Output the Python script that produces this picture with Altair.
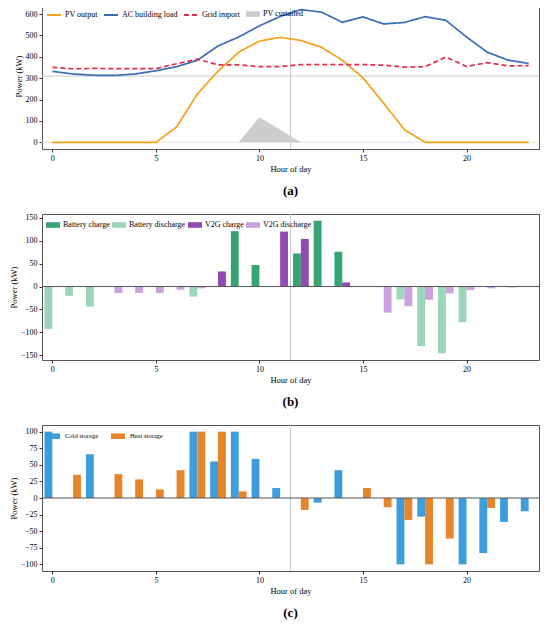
import altair as alt
import pandas as pd

# ---------------- data ----------------
hours = list(range(24))

# panel (a)
pv_output = [0, 0, 0, 0, 0, 0, 72, 226, 333, 422, 474, 491, 477, 445, 384, 302, 183, 60, 0, 0, 0, 0, 0, 0]
ac_building_load = [332, 320, 314, 313, 320, 335, 354, 384, 451, 493, 545, 589, 621, 609, 562, 587, 554, 561, 588, 571, 493, 422, 385, 369]
grid_import = [351, 344, 346, 345, 345, 345, 368, 389, 363, 363, 354, 354, 364, 364, 364, 364, 361, 352, 354, 399, 355, 373, 358, 359]
pv_curtailed = [0, 0, 0, 0, 0, 0, 0, 0, 0, 0, 118, 59, 0, 0, 0, 0, 0, 0, 0, 0, 0, 0, 0, 0]
ref_power = 310
ref_hour = 11.5

# panel (b)
battery_charge = [0, 0, 0, 0, 0, 0, 0, 0, 0, 121, 47, 0, 72, 144, 76, 0, 0, 0, 0, 0, 0, 0, 0, 0]
battery_discharge = [-93, -20, -44, 0, 0, 0, 0, -22, 0, 0, 0, 0, 0, 0, 0, 0, 0, -28, -130, -146, -78, 0, 0, 0]
v2g_charge = [0, 0, 0, 0, 0, 0, 0, 0, 33, 0, 0, 120, 104, 0, 9, 0, 0, 0, 0, 0, 0, 0, 0, 0]
v2g_discharge = [0, 0, 0, -14, -14, -14, -7, -4, 0, 0, 0, 0, 0, 0, 0, 0, -57, -43, -29, -15, -8, -4, -2, 0]

# panel (c)
cold_storage = [100, 0, 66, 0, 0, 0, 0, 100, 55, 100, 59, 15, 0, -7, 42, 0, 0, -100, -28, 0, -100, -83, -36, -20]
heat_storage = [0, 35, 0, 36, 28, 13, 42, 100, 100, 10, 0, 0, -18, 0, 0, 15, -14, -33, -100, -61, 0, -15, 0, 0]

line_series = ["PV output", "AC building load", "Grid import"]
line_colors = ["#f5a11c", "#3a6db5", "#e0304e"]
line_dashes = [[1, 0], [1, 0], [5, 3]]
curt_label = "PV curtailed"
curt_color = "#cccccc"
b_series = ["Battery charge", "Battery discharge", "V2G charge", "V2G discharge"]
b_colors = ["#2ca06c", "#93d4b6", "#8b3fb0", "#c89ddd"]
c_series = ["Cold storage", "Heat storage"]
c_colors = ["#3498db", "#e67e22"]

FONT = "Liberation Serif"
W, H = 497, 146
RECT = "M-1,-0.4L1,-0.4L1,0.4L-1,0.4Z"

# ---------------- tables ----------------
df_lines = pd.DataFrame({
    "hour": hours * 3,
    "power": pv_output + ac_building_load + grid_import,
    "series": [s for s in line_series for _ in hours],
})
df_curt = pd.DataFrame({"hour": hours, "power": pv_curtailed, "series": [curt_label] * 24})


def long_bars(series_lists, names, groups):
    rows = []
    for vals, name, grp in zip(series_lists, names, groups):
        for h, v in zip(hours, vals):
            if v != 0:
                rows.append({"hour": h, "power": v, "series": name, "side": grp})
    return pd.DataFrame(rows)


df_b = long_bars([battery_charge, battery_discharge, v2g_charge, v2g_discharge], b_series,
                 ["left", "left", "right", "right"])
df_c = long_bars([cold_storage, heat_storage], c_series, ["left", "right"])

df_vref = pd.DataFrame({"hour": [ref_hour]})
df_zero = pd.DataFrame({"power": [0]})
df_href = pd.DataFrame({"power": [ref_power]})

# ---------------- shared encodings ----------------
xscale = alt.Scale(domain=[-0.5, 23.5], nice=False, zero=False)
xaxis = alt.Axis(title="Hour of day", values=[0, 5, 10, 15, 20])


def yaxis(vals):
    return alt.Axis(title="Power (kW)", values=vals)


def caption(t):
    return alt.TitleParams(t, orient="bottom", anchor="middle", font=FONT, fontSize=13,
                           fontWeight="bold", offset=12, color="black")


# ---------------- panel (a) ----------------
ya = alt.Scale(domain=[-31, 652], nice=False, zero=False)
ya_axis = yaxis([0, 100, 200, 300, 400, 500, 600])
X = alt.X("hour:Q", scale=xscale, axis=xaxis)
Ya = alt.Y("power:Q", scale=ya, axis=ya_axis)

vline_a = alt.Chart(df_vref).mark_rule(color="#cccccc", strokeWidth=1).encode(x=X)
hline_a = alt.Chart(df_href).mark_rule(color="#cccccc", strokeWidth=1).encode(y=Ya)
zero_a = alt.Chart(df_zero).mark_rule(color="#e4e4e4", strokeWidth=1).encode(y=Ya)

area_a = alt.Chart(df_curt).mark_area(opacity=1).encode(
    x=X, y=Ya,
    fill=alt.Fill("series:N", scale=alt.Scale(domain=[curt_label], range=[curt_color]),
                  legend=alt.Legend(title=None, orient="none", legendX=204, legendY=4,
                                    padding=0, symbolType=RECT, symbolSize=196,
                                    symbolStrokeWidth=0, labelFont=FONT, labelFontSize=8,
                                    labelOffset=3)),
)

leg_a = alt.Legend(
    title=None, orient="top-left", direction="horizontal", offset=4, padding=0,
    symbolType="stroke", symbolSize=196, symbolStrokeWidth=2,
    labelFont=FONT, labelFontSize=8, labelOffset=3, columnPadding=2,
)
lines_a = alt.Chart(df_lines).mark_line(strokeWidth=1.7).encode(
    x=X, y=Ya,
    stroke=alt.Stroke("series:N", scale=alt.Scale(domain=line_series, range=line_colors),
                      sort=line_series, legend=leg_a),
    strokeDash=alt.StrokeDash("series:N", scale=alt.Scale(domain=line_series, range=line_dashes),
                              sort=line_series, legend=leg_a),
)

panel_a = alt.layer(vline_a, hline_a, zero_a, area_a, lines_a).properties(
    width=W, height=H, title=caption("(a)"))


# ---------------- bar panels ----------------
def bar_panel(df, names, colors, ydomain, yvals, legend, cap):
    ys = alt.Scale(domain=ydomain, nice=False, zero=False)
    Y = alt.Y("power:Q", scale=ys, axis=yaxis(yvals))
    vline = alt.Chart(df_vref).mark_rule(color="#cccccc", strokeWidth=1).encode(x=X)
    bars = alt.Chart(df).transform_calculate(
        off="datum.side === 'left' ? -0.19 : 0.19"
    ).transform_calculate(
        x0="datum.hour + datum.off - 0.19", x1="datum.hour + datum.off + 0.19"
    ).mark_bar(opacity=0.95).encode(
        x=alt.X("x0:Q", scale=xscale, axis=xaxis),
        x2="x1:Q",
        y=Y,
        y2=alt.Y2Datum(0),
        color=alt.Color("series:N", scale=alt.Scale(domain=names, range=colors),
                        sort=names, legend=legend),
    )
    zero = alt.Chart(df_zero).mark_rule(color="#555555", strokeWidth=1).encode(y=Y)
    return alt.layer(vline, bars, zero).properties(width=W, height=H, title=caption(cap))


leg_b = alt.Legend(title=None, orient="top-left", direction="horizontal", offset=4, padding=0,
                   symbolType=RECT, symbolSize=196, symbolStrokeWidth=0, labelFont=FONT,
                   labelFontSize=8, labelOffset=3, columnPadding=2)
panel_b = bar_panel(df_b, b_series, b_colors, [-160.5, 158.5], [-150, -100, -50, 0, 50, 100, 150],
                    leg_b, "(b)")

leg_c = alt.Legend(title=None, orient="top-left", direction="horizontal", offset=4, padding=0,
                   symbolType=RECT, symbolSize=196, symbolStrokeWidth=0, labelFont=FONT,
                   labelFontSize=6.5, labelOffset=5, columnPadding=12)
panel_c = bar_panel(df_c, c_series, c_colors, [-110, 110],
                    [-100, -75, -50, -25, 0, 25, 50, 75, 100], leg_c, "(c)")

chart = alt.vconcat(panel_a, panel_b, panel_c, spacing=15).resolve_scale(
    color="independent", fill="independent", stroke="independent",
    strokeDash="independent", y="independent"
).resolve_legend(
    color="independent", fill="independent", stroke="independent",
    strokeDash="independent"
).properties(
    padding={"left": 0, "top": -6, "right": 0, "bottom": 0}
).configure_axis(
    grid=False, domain=False, tickSize=3, tickColor="#333333", tickWidth=1,
    labelFont=FONT, labelFontSize=8, labelColor="black", labelPadding=2,
    titleFont=FONT, titleFontSize=8.5, titleFontWeight="normal", titleColor="black",
    titlePadding=2,
).configure_view(
    stroke="#555555", strokeWidth=1
).configure_legend(
    labelColor="black"
)

chart.save("out.html", embed_options={"renderer": "svg", "actions": False})
